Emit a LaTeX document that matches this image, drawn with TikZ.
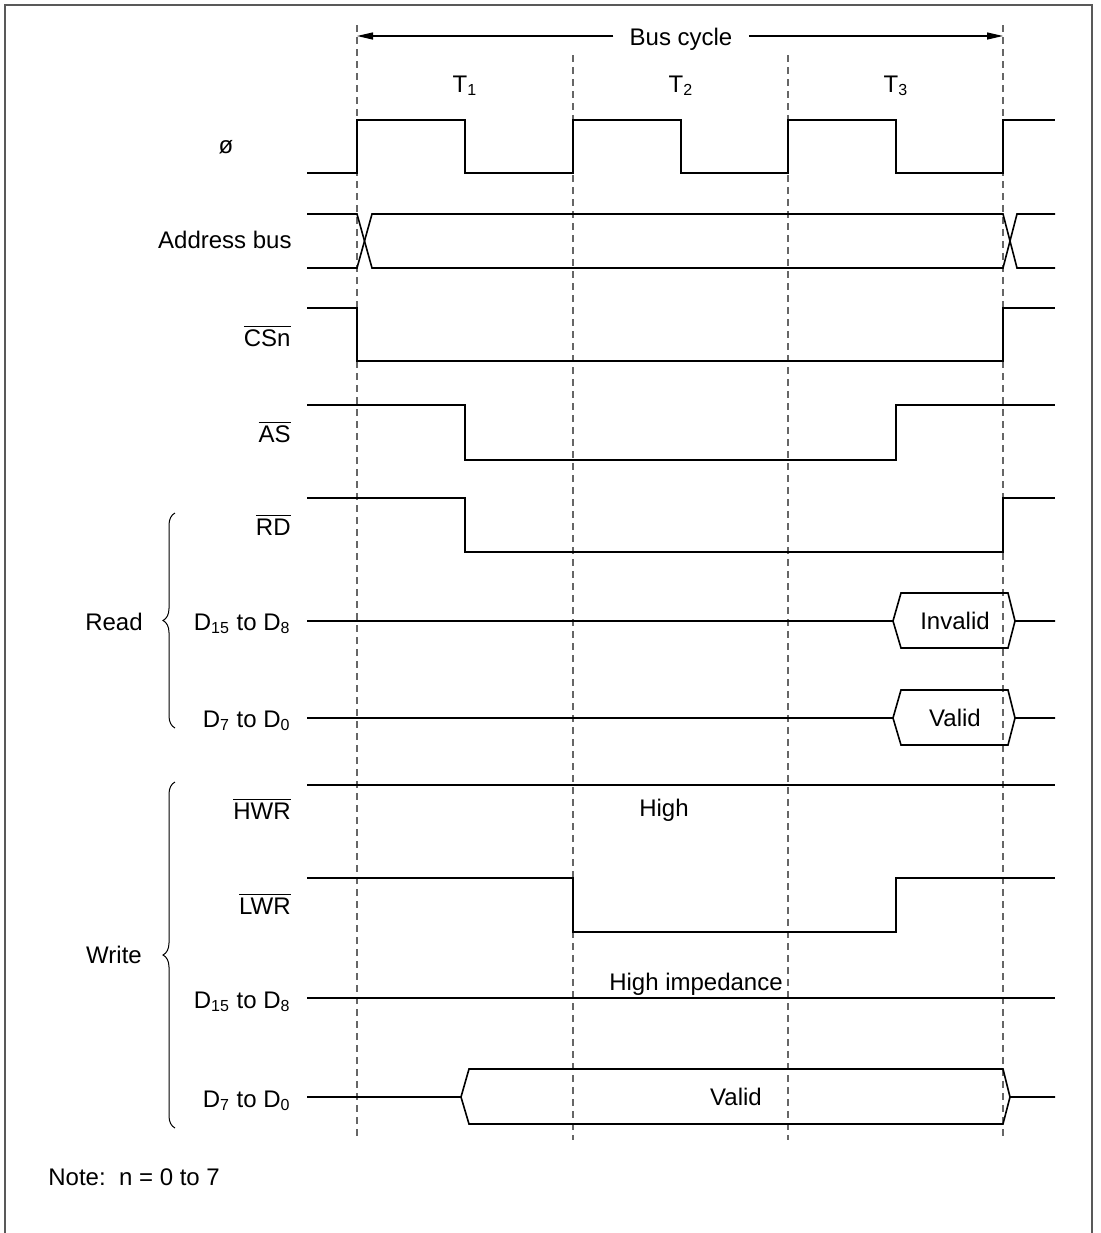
\documentclass[tikz,border=0pt]{standalone}
\usepackage{fontspec}
\setmainfont{Liberation Sans}
\usetikzlibrary{arrows.meta,positioning,decorations.pathreplacing}

\begin{document}
\begin{tikzpicture}[
    x=0.5pt, y=-0.5pt,
    every node/.style={font=\fontsize{12}{14}\selectfont, inner sep=0pt},
    sig/.style={line width=0.8pt, line join=miter},
    tick/.style={dash pattern=on 3.5pt off 2.5pt, black!60, line width=0.6pt},
    lbl/.style={anchor=base east},
    arr/.style={-{Triangle[length=8pt,width=3.5pt]}, line width=0.6pt},
    grp/.style={decorate, decoration={brace, amplitude=6pt, aspect=0.5}, line width=0.5pt}
]
\useasboundingbox (0,0) rectangle (1101,1233);

%% Frame
\draw[black!65, line width=1pt] (5,1233) -- (5,5) -- (1092,5) -- (1092,1233);

%% State boundaries
\draw[tick] (357,25) -- (357,1140);
\draw[tick] (573,55) -- (573,1140);
\draw[tick] (788,55) -- (788,1140);
\draw[tick] (1003,25) -- (1003,1140);

%% Bus cycle
\node[anchor=base, inner xsep=8pt] (cyc) at (681,45) {Bus cycle};
\coordinate (cycL) at (357,36);
\coordinate (cycR) at (1003,36);
\draw[arr] (cyc.west |- cycL) -- (cycL);
\draw[arr] (cyc.east |- cycR) -- (cycR);

%% States
\node[anchor=base] (t1) at (465,92) {T\textsubscript{1}};
\node[anchor=base] (t2) at (681,92) {T\textsubscript{2}};
\node[anchor=base] (t3) at (896,92) {T\textsubscript{3}};

%% Clock
\node[anchor=base] (lclk) at (226,153) {ø};
\draw[sig] (307,173) -- (357,173) -- (357,120) -- (465,120) -- (465,173)
  -- (573,173) -- (573,120) -- (681,120) -- (681,173) -- (788,173)
  -- (788,120) -- (896,120) -- (896,173) -- (1003,173) -- (1003,120) -- (1055,120);

%% Address bus
\node[lbl] (laddr) at (292,248) {Address bus};
\draw[sig] (307,214) -- (357,214) -- (372,268) -- (1003,268) -- (1017,214) -- (1055,214);
\draw[sig] (307,268) -- (357,268) -- (372,214) -- (1003,214) -- (1017,268) -- (1055,268);

%% Chip select
\node[lbl] (lcs) at (291,346) {$\overline{\mbox{CSn}}$};
\draw[sig] (307,308) -- (357,308) -- (357,361) -- (1003,361) -- (1003,308) -- (1055,308);

%% Address strobe
\node[lbl] (las) at (291,442) {$\overline{\mbox{AS}}$};
\draw[sig] (307,405) -- (465,405) -- (465,460) -- (896,460) -- (896,405) -- (1055,405);

%% Read
\node[lbl] (lrd) at (291,535) {$\overline{\mbox{RD}}$};
\draw[sig] (307,498) -- (465,498) -- (465,552) -- (1003,552) -- (1003,498) -- (1055,498);

\node[lbl] (lrdhi) at (291,630) {D\textsubscript{15} to D\textsubscript{8}};
\draw[sig] (307,621) -- (893,621) -- (901,593) -- (1008,593) -- (1015,621) -- (1055,621);
\draw[sig] (893,621) -- (901,648) -- (1008,648) -- (1015,621);
\node (rdinv) at (955,621) {Invalid};

\node[lbl] (lrdlo) at (291,727) {D\textsubscript{7} to D\textsubscript{0}};
\draw[sig] (307,718) -- (893,718) -- (901,690) -- (1008,690) -- (1015,718) -- (1055,718);
\draw[sig] (893,718) -- (901,745) -- (1008,745) -- (1015,718);
\node (rdval) at (955,718) {Valid};

\node[anchor=base] (lread) at (114,630) {Read};
\draw[grp] (175,728) -- (175,513);

%% Write
\node[lbl] (lhwr) at (291,819) {$\overline{\mbox{HWR}}$};
\draw[sig] (307,785) -- (1055,785);
\node[anchor=base] (hwrhigh) at (664,816) {High};

\node[lbl] (llwr) at (291,914) {$\overline{\mbox{LWR}}$};
\draw[sig] (307,878) -- (573,878) -- (573,932) -- (896,932) -- (896,878) -- (1055,878);

\node[lbl] (lwrhi) at (291,1008) {D\textsubscript{15} to D\textsubscript{8}};
\draw[sig] (307,998) -- (1055,998);
\node[anchor=base] (hiz) at (696,990) {High impedance};

\node[lbl] (lwrlo) at (291,1107) {D\textsubscript{7} to D\textsubscript{0}};
\draw[sig] (307,1097) -- (461,1097) -- (469,1069) -- (1003,1069) -- (1010,1097) -- (1055,1097);
\draw[sig] (461,1097) -- (469,1124) -- (1003,1124) -- (1010,1097);
\node (wrval) at (736,1097) {Valid};

\node[anchor=base] (lwrite) at (114,963) {Write};
\draw[grp] (175,1128) -- (175,782);

%% Note
\node[anchor=base west] (note) at (48,1185) {Note:\ \ n = 0 to 7};

\end{tikzpicture}
\end{document}
